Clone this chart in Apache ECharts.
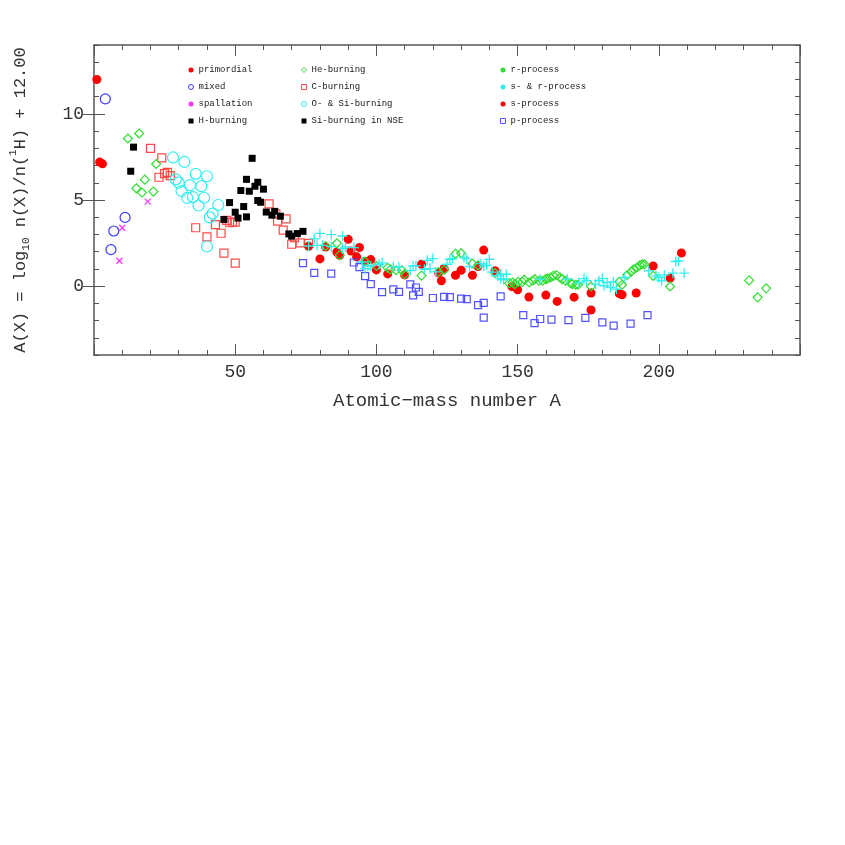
<!DOCTYPE html>
<html><head><meta charset="utf-8">
<script src="https://cdn.jsdelivr.net/npm/echarts@6/dist/echarts.min.js"></script>
<style>html,body{margin:0;padding:0;background:#fff}#c{width:845px;height:845px}</style>
</head><body><div id="c"></div>
<script>
// ---- data: [mass number A, abundance A(X)] ----
const primordial = [[1,12.0],[2,7.2],[3,7.1]];
const mixed = [[4,10.87],[6,2.12],[7,3.2],[11,3.99]];
const spallation = [[9,1.47],[10,3.39],[19,4.91]];
const hBurning = [[13,6.67],[14,8.07]];
const heBurning = [[12,8.57],[15,5.68],[16,8.86],[17,5.43],[18,6.18],[21,5.49],[22,7.09]];
const cBurning = [[20,8.0],[23,6.32],[24,7.45],[25,6.53],[26,6.6],[27,6.42],[36,3.39],[40,2.86],[43,3.57],[45,3.07],[46,1.92],[47,3.82],[48,3.68],[49,3.72],[50,3.72],[50,1.34],[62,4.78],[64.4,4.2],[65,3.77],[67,3.25],[68,3.9],[70,2.43],[71,2.81],[73,2.51],[76,2.48]];
const oSiBurning = [[28,7.47],[29,6.2],[30,6.01],[31,5.52],[32,7.21],[33,5.12],[34,5.86],[35,5.17],[36,6.52],[37,4.68],[38,5.8],[39,5.13],[40,6.38],[40,2.3],[41,3.99],[42,4.21],[44,4.71]];
const siNSE = [[46,3.87],[48,4.85],[50,4.29],[51,3.95],[52,5.55],[53,4.62],[54,6.2],[54,4.02],[55,5.51],[56,7.42],[57,5.8],[58,6.03],[58,4.97],[59,4.87],[60,5.63],[61,4.3],[63,4.12],[64,4.34],[66,4.06],[69,3.03],[70,2.9],[72,3.05],[74,3.18]];
const rProcess = [[82,2.33],[86,2.49],[87,1.8],[96,1.42],[100,1.17],[104,1.06],[105,0.97],[107,0.92],[109,0.92],[110,0.7],[116,0.61],[122,0.82],[124,0.94],[128,1.88],[130,1.91],[134,1.3],[136,1.2],[142,0.76],[147,0.17],[148.2,0.21],[149,0.12],[150.2,0.25],[151.7,0.25],[152.3,0.37],[154.1,0.21],[155.3,0.31],[156.1,0.4],[157.6,0.31],[158.8,0.31],[160,0.4],[160.6,0.44],[161.7,0.5],[162.7,0.6],[163.8,0.64],[165,0.5],[165.8,0.4],[167,0.31],[168.8,0.17],[169.4,0.12],[170.6,0.08],[171.4,0.08],[176,-0.02],[186,0.25],[187,0.08],[188.8,0.64],[190.2,0.83],[191.1,0.98],[192.3,1.08],[193.3,1.21],[194.1,1.27],[194.9,1.27],[198,0.6],[204,-0.02],[232,0.33],[235,-0.65],[238,-0.13]];
const sAndR = [[76,2.33],[78,2.74],[79,2.37],[80,3.06],[81,2.37],[84,2.99],[84,2.29],[88,2.91],[88,2.18],[89,2.27],[92,2.24],[95,1.4],[96,1.02],[97,1.17],[98,1.17],[101,1.27],[102,1.35],[106,1.12],[108,1.1],[112,0.9],[113,1.17],[114,1.17],[117,0.98],[118,1.5],[119,1.02],[120,1.6],[121,0.83],[125,1.27],[126,1.56],[127,1.6],[131,1.66],[132,1.58],[133,1.14],[137,1.3],[138,1.17],[139,1.21],[140,1.56],[141,0.81],[143,0.6],[144,0.44],[144,0.69],[145,0.37],[146,0.69],[158,0.4],[167.6,0.4],[171.7,0.21],[173.5,0.44],[174.4,0.31],[177.6,0.12],[178.8,0.31],[180,0.44],[180.6,0.02],[181.7,0.21],[182.9,-0.08],[183.9,0.25],[185,-0.17],[188,0.5],[196.4,0.89],[199,0.6],[200,0.5],[201,0.31],[202,0.65],[205,0.75],[206,1.43],[207,1.46],[209,0.75]];
const sProcess = [[76,2.31],[80,1.58],[82,2.27],[86,1.98],[87,1.79],[90,2.72],[91,2.04],[93,1.7],[94,2.24],[96,1.43],[98,1.54],[100,0.94],[104,0.71],[110,0.65],[116,1.27],[122,0.77],[123,0.31],[124,1.02],[128,0.63],[130,0.92],[134,0.63],[136,1.14],[138,2.09],[142,0.89],[148,-0.03],[150,-0.21],[154,-0.63],[160,-0.52],[164,-0.89],[170,-0.64],[176,-0.4],[176,-1.39],[186,-0.44],[187,-0.5],[192,-0.4],[198,1.17],[204,0.46],[208,1.92]];
const pProcess = [[74,1.33],[78,0.77],[84,0.73],[92,1.37],[94,1.1],[96,0.58],[98,0.12],[102,-0.35],[106,-0.19],[108,-0.33],[112,0.1],[113,-0.54],[114,-0.08],[115,-0.33],[120,-0.69],[124,-0.62],[126,-0.64],[130,-0.73],[132,-0.75],[136,-1.1],[138,-0.97],[138,-1.83],[144,-0.6],[152,-1.68],[156,-2.15],[158,-1.91],[162,-1.95],[168,-1.97],[174,-1.85],[180,-2.1],[184,-2.29],[190,-2.18],[196,-1.68]];

const xTickLabels = [50, 100, 150, 200];
const yTickLabels = [0, 5, 10];

const FONT = 'Liberation Mono';
const AX = '#555';
const TXT = '#333';
const NONE = 'rgba(0,0,0,0)';
const PLUS = 'path://M0,5L10,5M5,0L5,10';
const CROSS = 'path://M0,0L10,10M0,10L10,0';

function sc(name, data, symbol, size, fill, stroke, bw) {
  return { name, type: 'scatter', data, symbol, symbolSize: size, symbolKeepAspect: true,
    itemStyle: { color: fill, borderColor: stroke, borderWidth: bw, opacity: 1 },
    emphasis: { disabled: true }, xAxisIndex: 0, yAxisIndex: 0, z: 3 };
}

const series = [
  sc('primordial', primordial, 'circle', 9, '#ff0000', '#ff0000', 0),
  sc('mixed', mixed, 'circle', 10, NONE, '#3a3aff', 1.2),
  sc('spallation', spallation, CROSS, 6, NONE, '#ff33ff', 1.2),
  sc('H-burning', hBurning, 'rect', 7, '#000', '#000', 0),
  sc('C-burning', cBurning, 'rect', 8, NONE, '#ff4a4a', 1.2),
  sc('O- & Si-burning', oSiBurning, 'circle', 11, NONE, '#33eeee', 1.2),
  sc('Si-burning in NSE', siNSE, 'rect', 7, '#000', '#000', 0),
  sc('s-process', sProcess, 'circle', 9, '#ff0000', '#ff0000', 0),
  sc('p-process', pProcess, 'rect', 7, NONE, '#5050ff', 1.2),
  sc('He-burning', heBurning, 'diamond', 9, NONE, '#33dd33', 1.2),
  sc('r-process', rProcess, 'diamond', 9, NONE, '#33dd33', 1.2),
  sc('s- & r-process', sAndR, PLUS, 10, NONE, '#33eeee', 1.3)
];

const legendBase = { orient: 'vertical', itemWidth: 5, itemHeight: 5, itemGap: 5, padding: 0,
  selectedMode: false, textStyle: { fontFamily: FONT, fontSize: 9, color: '#222', lineHeight: 12 } };
function li(name, icon, fill, stroke) {
  return { name, icon, itemStyle: { color: fill, borderColor: stroke, borderWidth: fill === NONE ? 1 : 0 } };
}

const axLine = { show: true, onZero: false, lineStyle: { color: AX, width: 1.5 } };
const tickStyle = { color: AX, width: 1 };

const option = {
  animation: false,
  backgroundColor: '#fff',
  grid: { left: 92, right: 45, top: 45, bottom: 490, containLabel: false },
  legend: [
    Object.assign({}, legendBase, { left: 188, top: 64, data: [
      li('primordial', 'circle', '#ff0000', '#ff0000'),
      li('mixed', 'circle', NONE, '#3a3aff'),
      li('spallation', 'circle', '#ff33ff', '#ff33ff'),
      li('H-burning', 'rect', '#000', '#000') ] }),
    Object.assign({}, legendBase, { left: 301, top: 64, data: [
      li('He-burning', 'diamond', NONE, '#33dd33'),
      li('C-burning', 'rect', NONE, '#ff4a4a'),
      li('O- & Si-burning', 'circle', NONE, '#33eeee'),
      li('Si-burning in NSE', 'rect', '#000', '#000') ] }),
    Object.assign({}, legendBase, { left: 500, top: 64, data: [
      li('r-process', 'circle', '#33dd33', '#33dd33'),
      li('s- & r-process', 'circle', '#33eeee', '#33eeee'),
      li('s-process', 'circle', '#ff0000', '#ff0000'),
      li('p-process', 'rect', NONE, '#5050ff') ] })
  ],
  xAxis: [
    { type: 'value', min: 0, max: 250, interval: 50, position: 'bottom', axisLine: axLine,
      axisTick: { show: true, inside: true, length: 11, lineStyle: tickStyle },
      minorTick: { show: true, splitNumber: 5, length: 5, lineStyle: tickStyle },
      splitLine: { show: false }, minorSplitLine: { show: false },
      axisLabel: { show: true, margin: 8, fontFamily: FONT, fontSize: 18, color: TXT,
        formatter: v => xTickLabels.includes(v) ? String(v) : '' },
      name: 'Atomic\u2212mass number A', nameLocation: 'middle', nameGap: 36,
      nameTextStyle: { fontFamily: FONT, fontSize: 19, color: TXT } },
    { type: 'value', min: 0, max: 250, interval: 50, position: 'top', axisLine: axLine,
      axisTick: { show: true, inside: true, length: 11, lineStyle: tickStyle },
      minorTick: { show: true, splitNumber: 5, length: 5, lineStyle: tickStyle },
      splitLine: { show: false }, minorSplitLine: { show: false }, axisLabel: { show: false } }
  ],
  yAxis: [
    { type: 'value', min: -4, max: 14, interval: 1, position: 'left', axisLine: axLine,
      axisTick: { show: true, inside: true, length: 5, lineStyle: tickStyle },
      splitLine: { show: false },
      axisLabel: { show: true, margin: 10, fontFamily: FONT, fontSize: 18, color: TXT,
        formatter: v => yTickLabels.includes(v) ? String(v) : '' },
      name: 'A(X) = log{s|10} n(X)/n({p|1}H) + 12.00', nameLocation: 'middle', nameRotate: 90, nameGap: 62,
      nameTextStyle: { fontFamily: FONT, fontSize: 17, color: TXT, lineHeight: 24,
        rich: { s: { fontFamily: FONT, fontSize: 11, color: TXT, verticalAlign: 'bottom', lineHeight: 24 },
                p: { fontFamily: FONT, fontSize: 11, color: TXT, verticalAlign: 'top', lineHeight: 24 } } } },
    { type: 'value', min: -4, max: 14, interval: 1, position: 'left', axisLine: { show: false },
      axisTick: { show: true, inside: true, length: 11, lineStyle: tickStyle, customValues: yTickLabels },
      splitLine: { show: false }, axisLabel: { show: false } },
    { type: 'value', min: -4, max: 14, interval: 1, position: 'right', axisLine: axLine,
      axisTick: { show: true, inside: true, length: 5, lineStyle: tickStyle },
      splitLine: { show: false }, axisLabel: { show: false } },
    { type: 'value', min: -4, max: 14, interval: 1, position: 'right', axisLine: { show: false },
      axisTick: { show: true, inside: true, length: 11, lineStyle: tickStyle, customValues: yTickLabels },
      splitLine: { show: false }, axisLabel: { show: false } }
  ],
  series: series
};

const chart = echarts.init(document.getElementById('c'), null, { renderer: 'canvas' });
chart.setOption(option);
</script></body></html>
